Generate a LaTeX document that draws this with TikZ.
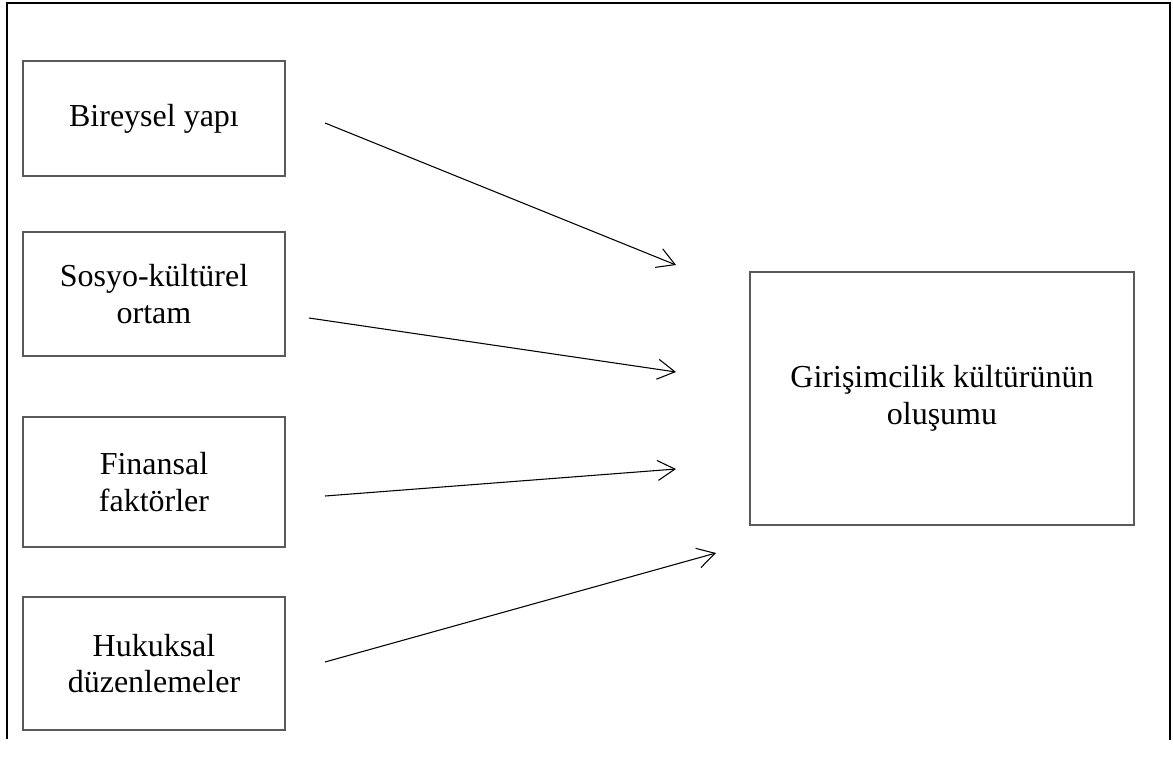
\documentclass[tikz,border=0pt]{standalone}
\usepackage{fontspec}
\setmainfont{Liberation Serif}
\usetikzlibrary{arrows.meta}

\begin{document}
\begin{tikzpicture}[x=0.75pt,y=-0.75pt]
	\tikzstyle{BOX} = [draw=black!65, line width=1.5pt, align=center, font=\fontsize{24}{27.5}\selectfont, inner sep=0pt]
	\tikzstyle{FACTOR} = [BOX, minimum width=196.5pt]
	\tikzstyle{RESULT} = [BOX, minimum width=288pt, minimum height=190pt]
	\tikzstyle{LINK} = [line width=0.8pt, -{Straight Barb[length=13pt,width=15pt]}]
	\useasboundingbox (0,0) rectangle (1173,760);

	% open frame (no bottom line)
	\draw[line width=1pt] (7,739) -- (7,3) -- (1170,3) -- (1170,740);

	\node[FACTOR, minimum height=86pt] (IND) at (154,118.5) {Bireysel yapı};
	\node[FACTOR, minimum height=93pt] (SOC) at (154,294) {Sosyo-kültürel\\ortam};
	\node[FACTOR, minimum height=97.5pt] (FIN) at (154,482) {Finansal\\faktörler};
	\node[FACTOR, minimum height=100pt] (LAW) at (154,663.5) {Hukuksal\\düzenlemeler};
	\node[RESULT] (CULT) at (942,398.5) {Girişimcilik kültürünün\\oluşumu};

	\coordinate (IND-S) at (325,123);
	\coordinate (IND-T) at (676,265);
	\coordinate (SOC-S) at (309,318);
	\coordinate (SOC-T) at (676,372);
	\coordinate (FIN-S) at (325,496);
	\coordinate (FIN-T) at (676,469);
	\coordinate (LAW-S) at (325,662);
	\coordinate (LAW-T) at (716,553);

	\draw[LINK] (IND-S) -- (IND-T);
	\draw[LINK] (SOC-S) -- (SOC-T);
	\draw[LINK] (FIN-S) -- (FIN-T);
	\draw[LINK] (LAW-S) -- (LAW-T);
\end{tikzpicture}
\end{document}
